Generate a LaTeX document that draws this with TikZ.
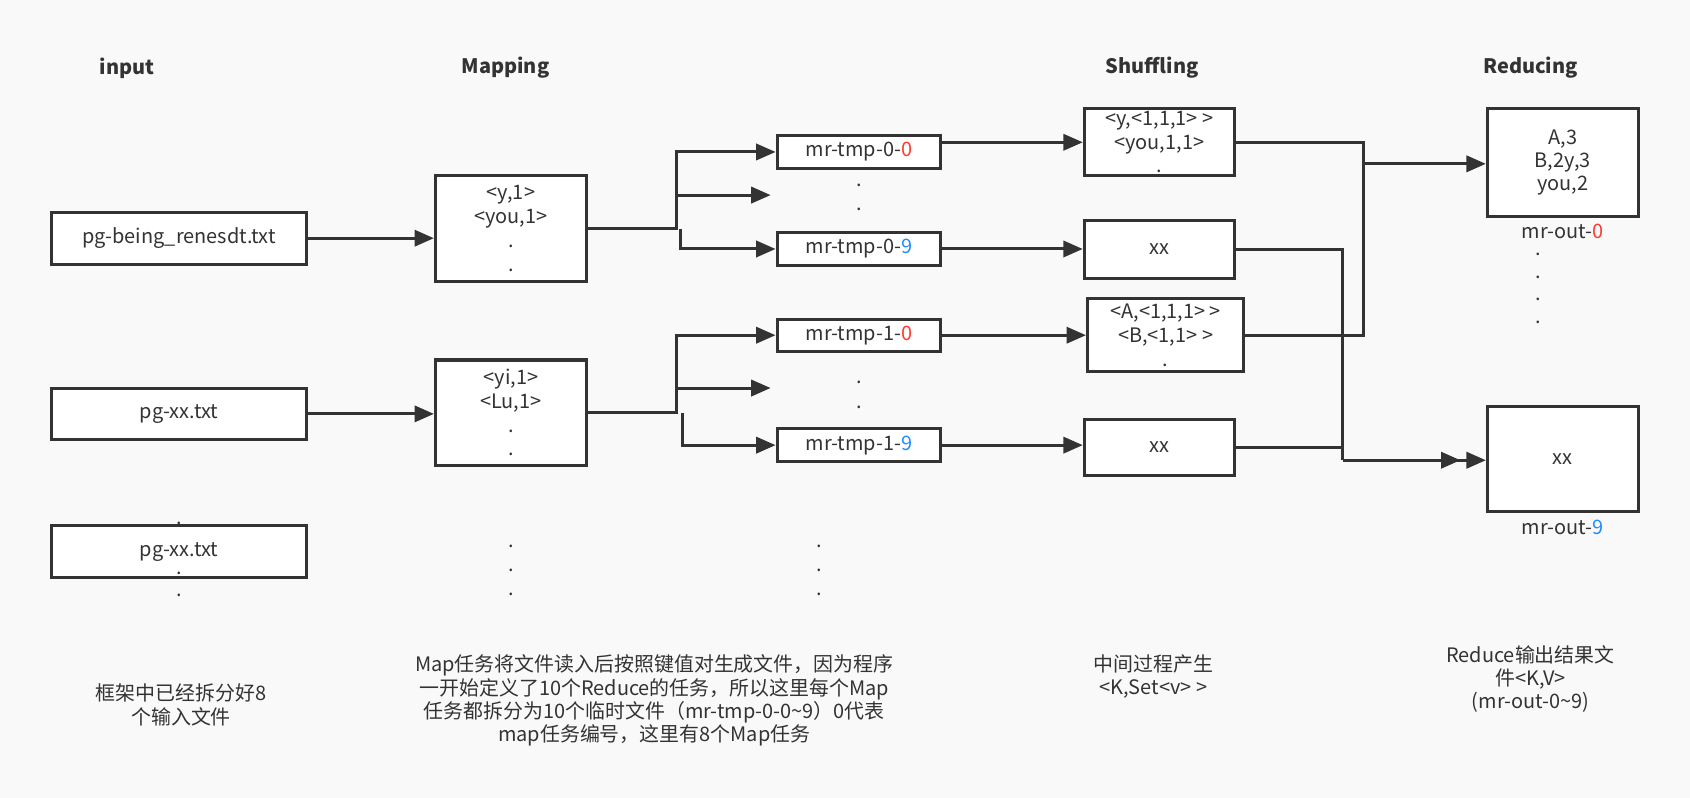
\documentclass[tikz,border=0pt]{standalone}
\usepackage{fontspec}
\setmainfont{Noto Sans CJK SC}
\usetikzlibrary{arrows.meta,positioning}
\definecolor{bg}{HTML}{F9F9F9}
\definecolor{ink}{HTML}{333333}
\definecolor{numred}{HTML}{FF3B30}
\definecolor{numblue}{HTML}{1E90FF}
\newcommand{\rz}[1]{\textcolor{numred}{#1}}
\newcommand{\bn}[1]{\textcolor{numblue}{#1}}

\begin{document}
\begin{tikzpicture}[x=1pt,y=-1pt,
    every node/.style={font=\fontsize{18.5}{21.5}\selectfont,text=ink},
    box/.style={draw=ink,line width=2.8pt,fill=white,inner sep=0pt,align=center},
    conn/.style={draw=ink,line width=2.8pt,-{Triangle[length=18pt,width=15pt]}},
    wire/.style={draw=ink,line width=2.8pt},
    head/.style={font=\fontsize{18.5}{21.5}\selectfont\bfseries},
    note/.style={align=center}]
      \fill[bg] (0,0) rectangle (1568,740);
      \useasboundingbox (0,0) rectangle (1568,740);

      \node[head] (hin)   at (118,63)  {input};
      \node[head] (hmap)  at (469,63)  {Mapping};
      \node[head] (hshuf) at (1069,63) {Shuffling};
      \node[head] (hred)  at (1420,63) {Reducing};

      \node[box,minimum width=237,minimum height=48] (in1) at (166,221) {pg-being\_renesdt.txt};
      \node[box,minimum width=237,minimum height=48] (in2) at (166,384) {pg-xx.txt};
      \node at (166,486) {.};
      \node[box,minimum width=237,minimum height=48] (in3) at (166,512) {pg-xx.txt};
      \foreach \y in {532,552} \node at (166,\y) {.};

      \node[box,minimum width=140,minimum height=98,
            font=\fontsize{18.5}{22}\selectfont] (map1) at (474,212) {<y,1>\\<you,1>\\.\\.};
      \node[box,minimum width=140,minimum height=98,
            font=\fontsize{18.5}{22}\selectfont] (map2) at (474,383) {<yi,1>\\<Lu,1>\\.\\.};
      \foreach \y in {507,529,551} \node at (474,\y) {.};

      \node[box,minimum width=152,minimum height=30] (t00) at (797,141) {mr-tmp-0-\rz{0}};
      \node[box,minimum width=152,minimum height=30] (t09) at (797,231) {mr-tmp-0-\bn{9}};
      \node[box,minimum width=152,minimum height=30] (t10) at (797,311) {mr-tmp-1-\rz{0}};
      \node[box,minimum width=152,minimum height=30] (t19) at (797,413) {mr-tmp-1-\bn{9}};
      \foreach \y in {172,194,355,378} \node at (797,\y) {.};
      \foreach \y in {507,529,551} \node at (760,\y) {.};

      \node[box,minimum width=139,minimum height=62,
            font=\fontsize{18.5}{22}\selectfont] (s1) at (1075.5,132) {<y,<1,1,1> >\\<you,1,1>\\.};
      \node[box,minimum width=139,minimum height=53] (s2) at (1075.5,231.5) {xx};
      \node[box,minimum width=145,minimum height=68,
            font=\fontsize{18.5}{22}\selectfont] (s3) at (1081.5,311) {<A,<1,1,1> >\\<B,<1,1> >\\.};
      \node[box,minimum width=139,minimum height=52] (s4) at (1075.5,415) {xx};

      \node[box,minimum width=140,minimum height=100] (r1) at (1450,151) {A,3\\B,2y,3\\you,2};
      \node[below=2pt of r1] (o0) {mr-out-\rz{0}};
      \foreach \y in {236,257,278,299} \node at (1427,\y) {.};
      \node[box,minimum width=140,minimum height=98] (r2) at (1450,426) {xx};
      \node[below=3pt of r2] (o9) {mr-out-\bn{9}};

      \draw[conn] (in1.east) -- (in1.east -| map1.west);
      \draw[conn] (in2.east) -- (in2.east -| map2.west);

      \coordinate (j1) at (628,212);
      \coordinate (j1b) at (631,212);
      \coordinate (m1) at (715,181);
      \draw[conn] (map1.east) -- (j1) |- (t00.west);
      \draw[conn] (j1 |- m1) -- (m1);
      \draw[conn] (j1b) |- (t09.west);

      \coordinate (j2) at (628,383);
      \coordinate (j2b) at (633,383);
      \coordinate (m2) at (715,360);
      \draw[conn] (map2.east) -- (j2) |- (t10.west);
      \draw[conn] (j2 |- m2) -- (m2);
      \draw[conn] (j2b) |- (t19.west);

      \draw[conn] (t00.east |- s1.west) -- (s1.west);
      \draw[conn] (t09.east) -- (t09.east -| s2.west);
      \draw[conn] (t10.east) -- (t10.east -| s3.west);
      \draw[conn] (t19.east) -- (t19.east -| s4.west);

      \coordinate (k0) at (1265,152);
      \draw[wire] (s1.east) -| (k0);
      \draw[wire] (s3.east) -| (k0);
      \draw[conn] (k0) -- (k0 -| r1.west);

      \coordinate (k9) at (1246,427);
      \coordinate (k9e) at (1355,427);
      \draw[wire] (s2.east) -| (k9);
      \draw[wire] (s4.east) -| (k9);
      \draw[conn] (k9) -- (k9e);
      \draw[conn] (k9) -- (k9 -| r2.west);

      \node[note] (nin) at (168,654) {框架中已经拆分好8\\个输入文件};
      \node[note] (nmap) at (607,650) {Map任务将文件读入后按照键值对生成文件，因为程序\\一开始定义了10个Reduce的任务，所以这里每个Map\\任务都拆分为10个临时文件（mr-tmp-0-0\textasciitilde9）0代表\\map任务编号，这里有8个Map任务};
      \node[note] (nshuf) at (1070,628) {中间过程产生\\<K,Set<v> >};
      \node[note] (nred) at (1420,630) {Reduce输出结果文\\件<K,V>\\(mr-out-0\textasciitilde9)};
\end{tikzpicture}
\end{document}
